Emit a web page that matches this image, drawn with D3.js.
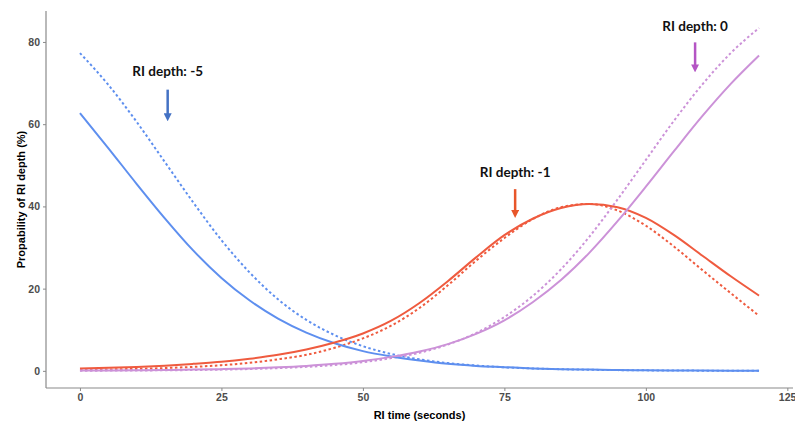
<!DOCTYPE html>
<html>
<head>
<meta charset="utf-8">
<script src="https://cdn.jsdelivr.net/npm/d3@7"></script>
<style>
  body { margin: 0; background: #fff; }
  svg { display: block; }
</style>
</head>
<body>
<div id="chart"></div>
<script>
// time points (seconds)
var times = [0, 5, 10, 15, 20, 25, 30, 35, 40, 45, 50, 55, 60, 65, 70, 75, 80, 85, 90, 95, 100, 105, 110, 115, 120];

// probability of RI depth (%)
var depthMinus5Solid = [62.7, 54.2, 45.5, 37.1, 29.3, 22.6, 17.1, 12.7, 9.3, 6.7, 4.8, 3.5, 2.5, 1.7, 1.2, 0.9, 0.6, 0.4, 0.3, 0.2, 0.15, 0.1, 0.07, 0.05, 0.04];
var depthMinus5Dotted = [77.3, 69.6, 60.6, 50.8, 41.0, 31.8, 23.9, 17.4, 12.4, 8.7, 6.0, 4.1, 2.8, 1.9, 1.3, 0.87, 0.59, 0.4, 0.27, 0.18, 0.12, 0.08, 0.05, 0.04, 0.02];
var depthMinus1Solid = [0.55, 0.73, 0.96, 1.27, 1.7, 2.2, 2.95, 3.9, 5.2, 6.9, 9.1, 12.2, 16.5, 21.8, 27.6, 33.0, 37.0, 39.6, 40.6, 39.8, 37.2, 33.0, 28.0, 23.0, 18.3];
var depthMinus1Dotted = [0.24, 0.34, 0.48, 0.68, 0.97, 1.38, 1.95, 2.8, 3.9, 5.6, 7.9, 11.0, 15.3, 20.8, 26.8, 32.3, 36.9, 39.8, 40.6, 39.0, 35.3, 30.2, 24.5, 18.9, 13.4];
var depth0Solid = [0.07, 0.1, 0.15, 0.21, 0.3, 0.42, 0.6, 0.85, 1.2, 1.7, 2.4, 3.4, 4.7, 6.5, 9.0, 12.3, 16.7, 22.1, 28.7, 36.4, 44.8, 53.5, 62.0, 69.8, 76.7];
var depth0Dotted = [0.04, 0.06, 0.09, 0.14, 0.2, 0.3, 0.45, 0.66, 0.97, 1.42, 2.1, 3.1, 4.4, 6.4, 9.2, 13.1, 18.2, 24.7, 32.6, 41.7, 51.3, 60.9, 69.7, 77.3, 83.4];

var xTicks = [0, 25, 50, 75, 100, 125];
var yTicks = [0, 20, 40, 60, 80];

// annotations: label, x (seconds), text y, arrow top, arrow tip (%)
var labels = ["RI depth: -5", "RI depth: -1", "RI depth: 0"];
var labelX = [15.5, 76.9, 108.7];
var labelY = [71.8, 47.2, 82.7];
var arrowTop = [68.4, 44.2, 79.9];
var arrowTip = [60.7, 37.2, 72.6];
var arrowColors = ["#4472C4", "#E8562A", "#B455C4"];

var series = [
  { values: depthMinus5Dotted, color: "#5E8FEF", dotted: true },
  { values: depthMinus1Dotted, color: "#EF5B3F", dotted: true },
  { values: depth0Dotted, color: "#CC92D8", dotted: true },
  { values: depthMinus5Solid, color: "#5E8FEF", dotted: false },
  { values: depthMinus1Solid, color: "#EF5B3F", dotted: false },
  { values: depth0Solid, color: "#CC92D8", dotted: false }
];

var width = 795;
var height = 426;
var plotLeft = 46, plotRight = 793, plotTop = 11, plotBottom = 388;

var svg = d3.select("#chart")
  .append("svg")
  .attr("width", width)
  .attr("height", height);

var x = d3.scaleLinear().domain([-6, 126]).range([plotLeft, plotRight]);
var y = d3.scaleLinear().domain([-4.17, 87.53]).range([plotBottom, plotTop]);

// axes
var xAxis = svg.append("g")
  .attr("transform", "translate(0," + plotBottom + ")")
  .call(d3.axisBottom(x).tickValues(xTicks).tickSize(3).tickPadding(3));

var yAxis = svg.append("g")
  .attr("transform", "translate(" + plotLeft + ",0)")
  .call(d3.axisLeft(y).tickValues(yTicks).tickSize(3).tickPadding(3));

[xAxis, yAxis].forEach(function(g) {
  g.select(".domain").attr("stroke", "#8a8a8a").attr("stroke-width", 1.2);
  g.selectAll(".tick line").attr("stroke", "#8a8a8a");
  g.selectAll(".tick text")
    .attr("fill", "#4d4d4d")
    .attr("font-family", "Liberation Sans, Arial, sans-serif")
    .attr("font-weight", "bold")
    .attr("font-size", "10.5px");
});
// last label sits on the right edge, keep it inside
xAxis.selectAll(".tick text").filter(function(d) { return d === 125; })
  .attr("text-anchor", "end").attr("dx", "8.5");
// axis lines over the whole panel, like ggplot
xAxis.select(".domain").attr("d", "M" + plotLeft + ",0H" + plotRight);
yAxis.select(".domain").attr("d", "M0," + plotTop + "V" + plotBottom);

// lines
var line = d3.line()
  .x(function(d, i) { return x(times[i]); })
  .y(function(d) { return y(d); })
  .curve(d3.curveMonotoneX);

svg.selectAll(".series")
  .data(series)
  .enter().append("path")
  .attr("class", "series")
  .attr("d", function(d) { return line(d.values); })
  .attr("fill", "none")
  .attr("stroke", function(d) { return d.color; })
  .attr("stroke-width", 2)
  .attr("stroke-dasharray", function(d) { return d.dotted ? "2.5,2.5" : null; });

// annotations
var defs = svg.append("defs");
arrowColors.forEach(function(c, i) {
  defs.append("marker")
    .attr("id", "head" + i)
    .attr("viewBox", "0 0 10 10")
    .attr("refX", 5).attr("refY", 5)
    .attr("markerWidth", 3.2).attr("markerHeight", 3.2)
    .attr("orient", "auto")
    .append("path")
    .attr("d", "M0,0L10,5L0,10Z")
    .attr("fill", c);
});

labels.forEach(function(t, i) {
  svg.append("text")
    .attr("x", x(labelX[i]))
    .attr("y", y(labelY[i]))
    .attr("text-anchor", "middle")
    .attr("font-family", "Lato, 'Open Sans', sans-serif")
    .attr("font-weight", "bold")
    .attr("font-size", "13.5px")
    .attr("fill", "#111")
    .text(t);

  svg.append("line")
    .attr("x1", x(labelX[i])).attr("x2", x(labelX[i]))
    .attr("y1", y(arrowTop[i])).attr("y2", y(arrowTip[i]) - 4)
    .attr("stroke", arrowColors[i])
    .attr("stroke-width", 2.5)
    .attr("marker-end", "url(#head" + i + ")");
});

// axis titles
svg.append("text")
  .attr("x", (plotLeft + plotRight) / 2)
  .attr("y", 419)
  .attr("text-anchor", "middle")
  .attr("font-family", "Liberation Sans, Arial, sans-serif")
  .attr("font-weight", "bold")
  .attr("font-size", "11px")
  .attr("fill", "#000")
  .text("RI time (seconds)");

svg.append("text")
  .attr("transform", "translate(25," + ((plotTop + plotBottom) / 2) + ") rotate(-90)")
  .attr("text-anchor", "middle")
  .attr("font-family", "Liberation Sans, Arial, sans-serif")
  .attr("font-weight", "bold")
  .attr("font-size", "11px")
  .attr("fill", "#000")
  .text("Propability of RI depth (%)");
</script>
</body>
</html>
